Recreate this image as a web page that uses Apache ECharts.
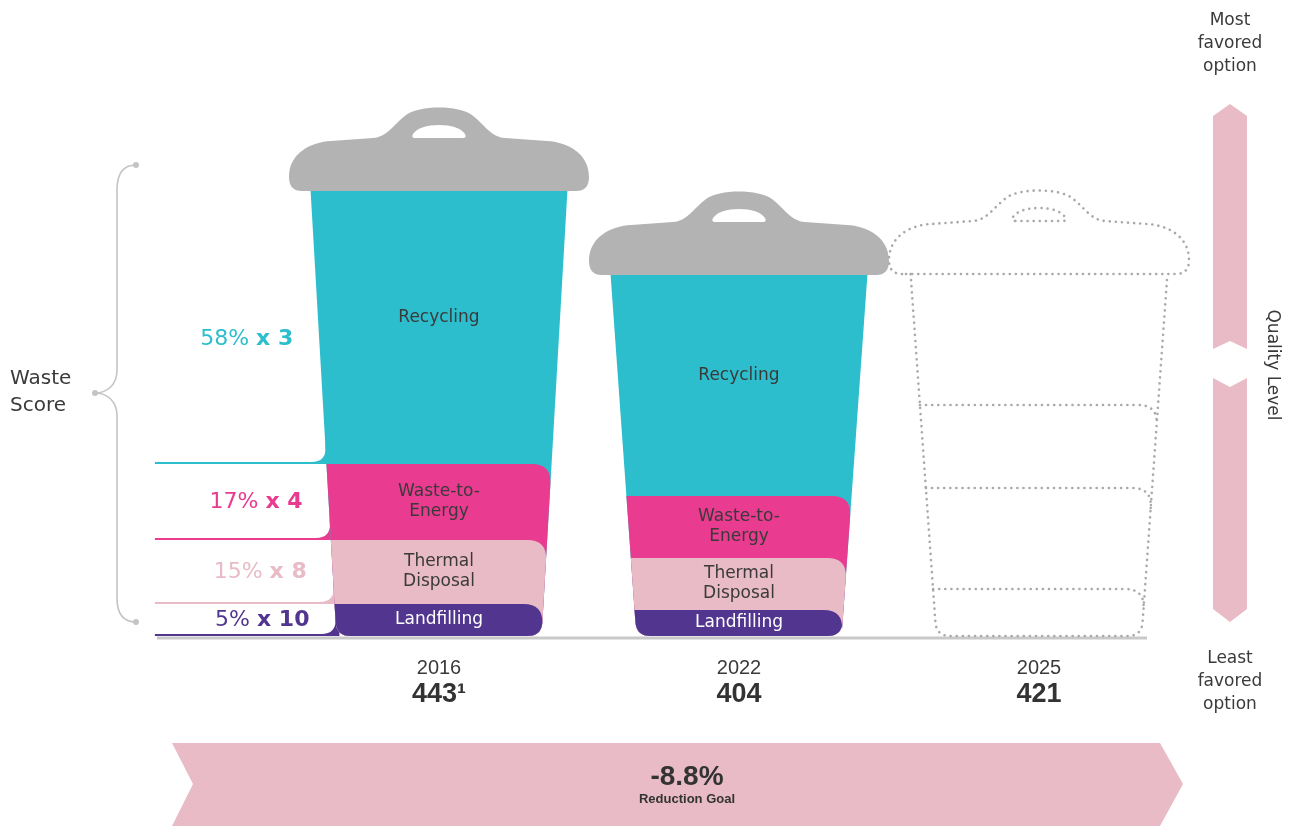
<!DOCTYPE html>
<html><head><meta charset="utf-8">
<script src="https://cdn.jsdelivr.net/npm/echarts@6/dist/echarts.min.js"></script>
<style>html,body{margin:0;padding:0;background:#fff}#c{width:1290px;height:826px}</style>
</head><body><div id="c"></div>
<script>
// ---- data ----
const years = ['2016', '2022', '2025'];
const scores = ['443\u00B9', '404', '421'];
const status = ['actual', 'actual', 'target'];
const layerNames = ['Landfilling', 'Thermal\nDisposal', 'Waste-to-\nEnergy', 'Recycling'];
// segment heights (bottom to top), as drawn in the picture
const landfilling = [32, 26, 47];
const thermal = [64, 52, 101];
const wasteToEnergy = [76, 62, 83];
const recycling = [273, 221, 131];
// score weighting shown for the first year
const shareYear = '2016';
const shares = [5, 15, 17, 58];
const weights = [10, 8, 4, 3];
const reduction = '-8.8%';

const layerColors = ['#51358F', '#E8BBC6', '#E93B8F', '#2CBECD'];
const labelColors = ['#ffffff', '#3a3a3a', '#3a3a3a', '#3a3a3a'];
const TXT = '#3a3a3a';
const VFONT = '"DejaVu Sans", Verdana, sans-serif';
const NFONT = '"Liberation Sans", Arial, sans-serif';

function lidPath(cx, by, s) {
  const P = (dx, dy) => (cx + dx * s) + ',' + (by + dy * s);
  return 'M' + P(-137, 0) + ' Q' + P(-150, 0) + ' ' + P(-150, -14) +
    ' C' + P(-150, -38) + ' ' + P(-128, -49) + ' ' + P(-108, -50) +
    ' L' + P(-66, -53) +
    ' C' + P(-52, -54) + ' ' + P(-46, -66) + ' ' + P(-33, -76) +
    ' C' + P(-20, -86) + ' ' + P(20, -86) + ' ' + P(33, -76) +
    ' C' + P(46, -66) + ' ' + P(52, -54) + ' ' + P(66, -53) +
    ' L' + P(108, -50) +
    ' C' + P(128, -49) + ' ' + P(150, -38) + ' ' + P(150, -14) +
    ' Q' + P(150, 0) + ' ' + P(137, 0) + ' Z';
}
function holePath(cx, by, s) {
  const P = (dx, dy) => (cx + dx * s) + ',' + (by + dy * s);
  return 'M' + P(-24, -53) + ' Q' + P(-28, -53) + ' ' + P(-26, -57) +
    ' C' + P(-22, -63) + ' ' + P(-12, -66) + ' ' + P(0, -66) +
    ' C' + P(12, -66) + ' ' + P(22, -63) + ' ' + P(26, -57) +
    ' Q' + P(28, -53) + ' ' + P(24, -53) + ' Z';
}

function renderBin(params, api) {
  const i = api.value(0);
  const vals = [api.value(1), api.value(2), api.value(3), api.value(4)];
  const base = api.coord([i, 0]);
  const cx = base[0], by = base[1];
  const band = api.size([1, 0])[0];
  const s = band / 300;
  const topHalf = band * 0.428, botHalf = band * 0.342;
  const ys = [by];
  let cum = 0;
  for (let k = 0; k < 4; k++) { cum += vals[k]; ys.push(api.coord([i, cum])[1]); }
  const ty = ys[4];
  const H = by - ty;
  const half = y => botHalf + (topHalf - botHalf) * (by - y) / H;
  const L = y => cx - half(y);
  const R = y => cx + half(y);
  const rb = 14 * s, rt = 20 * s;
  const children = [];

  if (status[i] === 'target') {
    const dot = { fill: 'none', stroke: '#aaaaaa', lineWidth: 2.6, lineDash: [0.1, 6], lineCap: 'round' };
    const outer = 'M' + L(ty) + ',' + ty + ' L' + L(by - rb) + ',' + (by - rb) +
      ' Q' + L(by) + ',' + by + ' ' + (L(by) + rb) + ',' + by +
      ' L' + (R(by) - rb) + ',' + by + ' Q' + R(by) + ',' + by + ' ' + R(by - rb) + ',' + (by - rb) +
      ' L' + R(ty) + ',' + ty;
    children.push({ type: 'path', shape: { pathData: outer }, style: dot });
    for (let k = 0; k < 3; k++) {
      const t = ys[k + 1];
      const d = 'M' + L(t) + ',' + t + ' L' + (R(t) - rt) + ',' + t +
        ' Q' + R(t) + ',' + t + ' ' + R(t + rt) + ',' + (t + rt);
      children.push({ type: 'path', shape: { pathData: d }, style: dot });
    }
    children.push({ type: 'path', shape: { pathData: lidPath(cx, ty, s) }, style: dot });
    children.push({ type: 'path', shape: { pathData: holePath(cx, ty, s) }, style: dot });
    return { type: 'group', children: children };
  }

  // left weighting bands
  if (years[i] === shareYear) {
    const bandStart = cx - band * 0.947;
    const rw = 15 * s;
    for (let k = 3; k >= 0; k--) {
      const t = ys[k + 1], b = ys[k];
      children.push({ type: 'rect', shape: { x: bandStart, y: b - rw - 6, width: L(b) - bandStart + 3, height: rw + 6 },
        style: { fill: layerColors[k] } });
      const w = 'M' + (bandStart - 3) + ',' + t + ' L' + L(t) + ',' + t +
        ' L' + L(b - 2 - rw) + ',' + (b - 2 - rw) +
        ' Q' + L(b - 2) + ',' + (b - 2) + ' ' + (L(b - 2) - rw) + ',' + (b - 2) +
        ' L' + (bandStart - 3) + ',' + (b - 2) + ' Z';
      children.push({ type: 'path', shape: { pathData: w }, style: { fill: '#ffffff' } });
      const mid = (t + b) / 2 + (k === 3 ? 12 : 0);
      children.push({ type: 'text', style: {
        text: '{n|' + shares[k] + '% }{b|x ' + weights[k] + '}',
        x: L(mid) - 26, y: mid, align: 'right', verticalAlign: 'middle',
        rich: {
          n: { fontFamily: VFONT, fontSize: 22, fill: layerColors[k], color: layerColors[k] },
          b: { fontFamily: VFONT, fontSize: 22, fontWeight: 'bold', fill: layerColors[k], color: layerColors[k] }
        }
      } });
    }
  }

  // bin layers, top first so lower layers overlap
  for (let k = 3; k >= 0; k--) {
    const t = ys[k + 1];
    let d = 'M' + L(t) + ',' + t;
    if (k < 3) d += ' L' + (R(t) - rt) + ',' + t + ' Q' + R(t) + ',' + t + ' ' + R(t + rt) + ',' + (t + rt);
    else d += ' L' + R(t) + ',' + t;
    d += ' L' + R(by - rb) + ',' + (by - rb) + ' Q' + R(by) + ',' + by + ' ' + (R(by) - rb) + ',' + by +
      ' L' + (L(by) + rb) + ',' + by + ' Q' + L(by) + ',' + by + ' ' + L(by - rb) + ',' + (by - rb) + ' Z';
    children.push({ type: 'path', shape: { pathData: d }, style: { fill: layerColors[k] } });
  }
  for (let k = 3; k >= 0; k--) {
    const t = ys[k + 1], b = ys[k];
    const mid = (t + b) / 2 + (k === 3 ? -10 : 0);
    children.push({ type: 'text', style: {
      text: layerNames[k], x: cx, y: mid, align: 'center', verticalAlign: 'middle',
      fontFamily: VFONT, fontSize: 17, lineHeight: 20, fill: labelColors[k]
    } });
  }
  // lid
  children.push({ type: 'path', shape: { pathData: lidPath(cx, ty, s) }, style: { fill: '#B3B3B3' } });
  children.push({ type: 'path', shape: { pathData: holePath(cx, ty, s) }, style: { fill: '#ffffff' } });
  return { type: 'group', children: children };
}

const chart = echarts.init(document.getElementById('c'), null, { renderer: 'canvas' });
const pink = '#E8BBC6';
const braceStyle = { stroke: '#c4c4c4', lineWidth: 1.6, fill: 'none' };
chart.setOption({
  animation: false,
  backgroundColor: '#ffffff',
  grid: { left: 289, right: 101, top: 36, bottom: 190 },
  xAxis: {
    type: 'category', data: years,
    axisLine: { show: false }, axisTick: { show: false }, splitLine: { show: false },
    axisLabel: {
      margin: 20,
      formatter: (v, idx) => '{y|' + v + '}\n{s|' + scores[idx] + '}',
      rich: {
        y: { fontFamily: NFONT, fontSize: 20, color: TXT, lineHeight: 24 },
        s: { fontFamily: NFONT, fontSize: 27, fontWeight: 'bold', color: '#333', lineHeight: 30 }
      }
    }
  },
  yAxis: { type: 'value', min: 0, max: 600, show: false },
  series: [{
    type: 'custom', clip: false,
    renderItem: renderBin,
    encode: { x: 0, y: [1, 2, 3, 4] },
    data: years.map((y, i) => [i, landfilling[i], thermal[i], wasteToEnergy[i], recycling[i]])
  }],
  graphic: [
    { type: 'line', shape: { x1: 157, y1: 638, x2: 1147, y2: 638 }, style: { stroke: '#c9c9c9', lineWidth: 3 } },
    // brace
    { type: 'bezierCurve', shape: { x1: 136, y1: 165, cpx1: 124, cpy1: 165, cpx2: 117, cpy2: 172, x2: 117, y2: 190 }, style: braceStyle },
    { type: 'line', shape: { x1: 117, y1: 190, x2: 117, y2: 370 }, style: braceStyle },
    { type: 'bezierCurve', shape: { x1: 117, y1: 370, cpx1: 117, cpy1: 386, cpx2: 106, cpy2: 393, x2: 95, y2: 393 }, style: braceStyle },
    { type: 'bezierCurve', shape: { x1: 95, y1: 393, cpx1: 106, cpy1: 393, cpx2: 117, cpy2: 400, x2: 117, y2: 416 }, style: braceStyle },
    { type: 'line', shape: { x1: 117, y1: 416, x2: 117, y2: 598 }, style: braceStyle },
    { type: 'bezierCurve', shape: { x1: 117, y1: 598, cpx1: 117, cpy1: 615, cpx2: 124, cpy2: 622, x2: 136, y2: 622 }, style: braceStyle },
    { type: 'circle', shape: { cx: 136, cy: 165, r: 3 }, style: { fill: '#c4c4c4' } },
    { type: 'circle', shape: { cx: 136, cy: 622, r: 3 }, style: { fill: '#c4c4c4' } },
    { type: 'circle', shape: { cx: 95, cy: 393, r: 3 }, style: { fill: '#c4c4c4' } },
    { type: 'text', x: 10, y: 392, style: { text: 'Waste\nScore', font: '20px ' + VFONT, lineHeight: 27, fill: TXT, align: 'left', verticalAlign: 'middle' } },
    // quality arrows
    { type: 'polygon', shape: { points: [[1230, 104], [1247, 116], [1247, 349], [1230, 341], [1213, 349], [1213, 116]] }, style: { fill: pink } },
    { type: 'polygon', shape: { points: [[1213, 378], [1230, 387], [1247, 378], [1247, 609], [1230, 622], [1213, 609]] }, style: { fill: pink } },
    { type: 'text', x: 1230, y: 44, style: { text: 'Most\nfavored\noption', font: '17px ' + VFONT, lineHeight: 23, fill: TXT, align: 'center', verticalAlign: 'middle' } },
    { type: 'text', x: 1230, y: 682, style: { text: 'Least\nfavored\noption', font: '17px ' + VFONT, lineHeight: 23, fill: TXT, align: 'center', verticalAlign: 'middle' } },
    { type: 'text', x: 1272, y: 365, rotation: -Math.PI / 2, style: { text: 'Quality Level', font: '17px ' + VFONT, fill: TXT, align: 'center', verticalAlign: 'middle' } },
    // reduction arrow
    { type: 'polygon', shape: { points: [[172, 743], [1160, 743], [1183, 784], [1160, 826], [172, 826], [193, 784]] }, style: { fill: pink } },
    { type: 'text', x: 687, y: 777, style: { text: reduction, font: 'bold 28px ' + NFONT, fill: '#333', align: 'center', verticalAlign: 'middle' } },
    { type: 'text', x: 687, y: 799, style: { text: 'Reduction Goal', font: 'bold 13px ' + NFONT, fill: '#333', align: 'center', verticalAlign: 'middle' } }
  ]
});
</script>
</body></html>
